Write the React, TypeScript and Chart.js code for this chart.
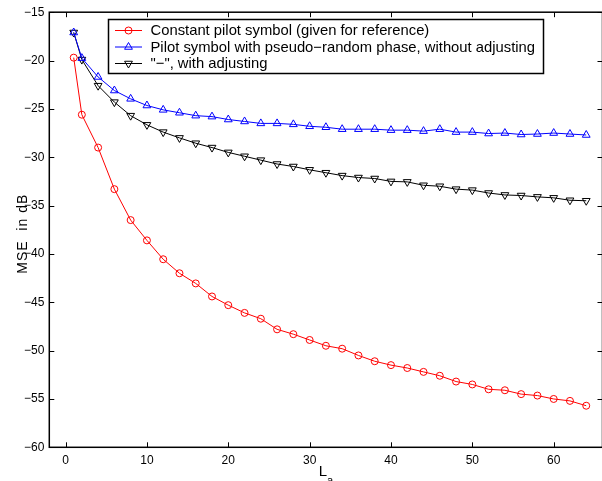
import React, { useEffect, useRef } from "react";
import { Chart, registerables } from "chart.js";

Chart.register(...registerables);

const L_A = [1, 2, 4, 6, 8, 10, 12, 14, 16, 18, 20, 22, 24, 26, 28, 30, 32, 34, 36, 38, 40, 42, 44, 46, 48, 50, 52, 54, 56, 58, 60, 62, 64];

const CONSTANT_PILOT = [-19.7, -25.6, -29.0, -33.3, -36.5, -38.6, -40.55, -42.0, -43.05, -44.4, -45.3, -46.1, -46.7, -47.8, -48.3, -48.9, -49.5, -49.8, -50.5, -51.1, -51.5, -51.8, -52.2, -52.6, -53.2, -53.5, -54.0, -54.1, -54.5, -54.65, -55.0, -55.2, -55.7];

const RANDOM_PHASE = [-17.1, -19.75, -21.7, -23.1, -23.96, -24.65, -25.1, -25.4, -25.7, -25.8, -26.1, -26.3, -26.5, -26.5, -26.6, -26.8, -26.9, -27.1, -27.1, -27.1, -27.2, -27.2, -27.3, -27.1, -27.4, -27.4, -27.55, -27.5, -27.65, -27.6, -27.5, -27.6, -27.7];

const WITH_ADJUSTING = [-17.1, -19.9, -22.6, -24.3, -25.7, -26.65, -27.4, -28.0, -28.55, -29.0, -29.5, -29.9, -30.3, -30.7, -30.96, -31.3, -31.6, -31.9, -32.1, -32.2, -32.5, -32.55, -32.9, -33.0, -33.3, -33.4, -33.7, -33.9, -33.96, -34.1, -34.2, -34.45, -34.5];

const SERIES_LABELS = [
  "Constant pilot symbol (given for reference)",
  "Pilot symbol with pseudo\u2212random phase, without adjusting",
  "\"\u2212\", with adjusting",
];

const X_TICKS = [0, 10, 20, 30, 40, 50, 60];
const Y_TICKS = [-60, -55, -50, -45, -40, -35, -30, -25, -20, -15];

const X_TITLE_MAIN = "L";
const X_TITLE_SUB = "a";
const Y_TITLE = "MSE  in dB";

const FONT = "'Liberation Sans', Arial, Helvetica, sans-serif";

function drawMarker(ctx: CanvasRenderingContext2D, style: string, x: number, y: number, r: number, rot: number, color: string) {
  ctx.save();
  ctx.strokeStyle = color;
  ctx.lineWidth = 1;
  ctx.beginPath();
  if (style === "circle") {
    ctx.arc(x, y, r, 0, Math.PI * 2);
  } else {
    const a0 = (rot * Math.PI) / 180;
    for (let k = 0; k < 3; k++) {
      const a = a0 + (k * 2 * Math.PI) / 3;
      const px = x + Math.sin(a) * r;
      const py = y - Math.cos(a) * r;
      if (k === 0) ctx.moveTo(px, py);
      else ctx.lineTo(px, py);
    }
    ctx.closePath();
  }
  ctx.stroke();
  ctx.restore();
}

const framePlugin = {
  id: "matlabFrame",
  beforeDatasetsDraw(chart: any) {
    const { ctx, chartArea } = chart;
    const { left, right, top, bottom } = chartArea;
    const xs = chart.scales.x;
    const ys = chart.scales.y;
    ctx.save();
    ctx.strokeStyle = "#000";
    ctx.lineWidth = 1;
    ctx.beginPath();
    const tl = 5;
    X_TICKS.forEach((v) => {
      const px = Math.round(xs.getPixelForValue(v)) + 0.5;
      ctx.moveTo(px, bottom);
      ctx.lineTo(px, bottom - tl);
      ctx.moveTo(px, top);
      ctx.lineTo(px, top + tl);
    });
    Y_TICKS.forEach((v) => {
      const py = Math.round(ys.getPixelForValue(v)) + 0.5;
      ctx.moveTo(left, py);
      ctx.lineTo(left + tl, py);
      ctx.moveTo(right, py);
      ctx.lineTo(right - tl, py);
    });
    ctx.stroke();
    ctx.lineWidth = 1.5;
    ctx.strokeRect(left, top, right - left, bottom - top);
    ctx.restore();
  },
};

const legendPlugin = {
  id: "matlabLegend",
  afterDatasetsDraw(chart: any) {
    const { ctx } = chart;
    const bx = 108.5, by = 19.5, bw = 435, bh = 54;
    ctx.save();
    ctx.fillStyle = "#fff";
    ctx.fillRect(bx, by, bw, bh);
    ctx.strokeStyle = "#000";
    ctx.lineWidth = 1.5;
    ctx.strokeRect(bx, by, bw, bh);
    const rows = [30.5, 47, 63.5];
    chart.data.datasets.forEach((ds: any, i: number) => {
      const y = rows[i];
      ctx.strokeStyle = ds.borderColor;
      ctx.lineWidth = 1;
      ctx.beginPath();
      ctx.moveTo(115, y);
      ctx.lineTo(142, y);
      ctx.stroke();
      drawMarker(ctx, ds.pointStyle, 128.5, y, ds.pointRadius, ds.pointRotation || 0, ds.borderColor);
      ctx.fillStyle = "#000";
      ctx.font = `14.8px ${FONT}`;
      ctx.textBaseline = "middle";
      ctx.textAlign = "left";
      ctx.fillText(ds.label, 150.5, y + 0.5);
    });
    ctx.restore();
  },
};

const titlesPlugin = {
  id: "axisTitles",
  afterDraw(chart: any) {
    const { ctx, chartArea } = chart;
    ctx.save();
    ctx.fillStyle = "#000";
    // x title with subscript
    ctx.font = `15px ${FONT}`;
    const wL = ctx.measureText(X_TITLE_MAIN).width;
    ctx.font = `11px ${FONT}`;
    const wa = ctx.measureText(X_TITLE_SUB).width;
    const cx = (chartArea.left + chartArea.right) / 2;
    const x0 = cx - (wL + wa) / 2;
    ctx.textAlign = "left";
    ctx.textBaseline = "alphabetic";
    ctx.font = `15px ${FONT}`;
    ctx.fillText(X_TITLE_MAIN, x0, 476);
    ctx.font = `11px ${FONT}`;
    ctx.fillText(X_TITLE_SUB, x0 + wL, 484);
    // y title
    ctx.translate(27, (chartArea.top + chartArea.bottom) / 2 + 4);
    ctx.rotate(-Math.PI / 2);
    ctx.font = `14px ${FONT}`;
    try {
      (ctx as any).letterSpacing = "1px";
    } catch (e) {}
    ctx.textAlign = "center";
    ctx.textBaseline = "alphabetic";
    ctx.fillText(Y_TITLE, 0, 0);
    ctx.restore();
  },
};

function fmt(v: number) {
  return v < 0 ? "\u2212" + Math.abs(v) : String(v);
}

export default function App() {
  const ref = useRef<HTMLCanvasElement | null>(null);

  useEffect(() => {
    if (!ref.current) return;
    const mk = (vals: number[]) => L_A.map((x, i) => ({ x, y: vals[i] }));
    const chart = new Chart(ref.current, {
      type: "line",
      data: {
        datasets: [
          {
            label: SERIES_LABELS[0],
            data: mk(CONSTANT_PILOT),
            borderColor: "#ff0000",
            backgroundColor: "rgba(0,0,0,0)",
            pointStyle: "circle",
            pointRadius: 3.5,
            pointBorderWidth: 1,
            pointBackgroundColor: "rgba(0,0,0,0)",
            borderWidth: 1,
          } as any,
          {
            label: SERIES_LABELS[1],
            data: mk(RANDOM_PHASE),
            borderColor: "#0000ff",
            backgroundColor: "rgba(0,0,0,0)",
            pointStyle: "triangle",
            pointRadius: 4.5,
            pointBorderWidth: 1,
            pointBackgroundColor: "rgba(0,0,0,0)",
            borderWidth: 1,
          } as any,
          {
            label: SERIES_LABELS[2],
            data: mk(WITH_ADJUSTING),
            borderColor: "#000000",
            backgroundColor: "rgba(0,0,0,0)",
            pointStyle: "triangle",
            pointRotation: 180,
            pointRadius: 4.5,
            pointBorderWidth: 1,
            pointBackgroundColor: "rgba(0,0,0,0)",
            borderWidth: 1,
          } as any,
        ],
      },
      options: {
        animation: false,
        responsive: false,
        devicePixelRatio: 1,
        layout: { padding: { left: 0, right: 3.5, top: 11.7, bottom: 0 }, autoPadding: false },
        plugins: {
          legend: { display: false },
          tooltip: { enabled: false },
        },
        elements: { line: { tension: 0 } },
        scales: {
          x: {
            type: "linear",
            min: -2,
            max: 66,
            grid: { display: false, drawTicks: false },
            border: { display: false },
            afterBuildTicks: (s: any) => {
              s.ticks = X_TICKS.map((v) => ({ value: v }));
            },
            afterFit: (s: any) => {
              s.height = 33.7;
            },
            ticks: {
              padding: 6,
              color: "#000",
              font: { family: FONT, size: 12 },
              maxRotation: 0,
              autoSkip: false,
              callback: (v: any) => fmt(Number(v)),
            },
          },
          y: {
            type: "linear",
            min: -60,
            max: -15,
            grid: { display: false, drawTicks: false },
            border: { display: false },
            afterBuildTicks: (s: any) => {
              s.ticks = Y_TICKS.map((v) => ({ value: v }));
            },
            afterFit: (s: any) => {
              s.width = 49.3;
            },
            ticks: {
              padding: 5,
              color: "#000",
              font: { family: FONT, size: 12 },
              autoSkip: false,
              callback: (v: any) => fmt(Number(v)),
            },
          },
        },
      } as any,
      plugins: [framePlugin, legendPlugin, titlesPlugin],
    });
    return () => chart.destroy();
  }, []);

  return (
    <div style={{ position: "absolute", left: 0, top: 0, width: 602, height: 481, overflow: "hidden", background: "#fff" }}>
      <canvas ref={ref} width={606} height={481} style={{ display: "block", width: 606, height: 481 }} />
    </div>
  );
}
